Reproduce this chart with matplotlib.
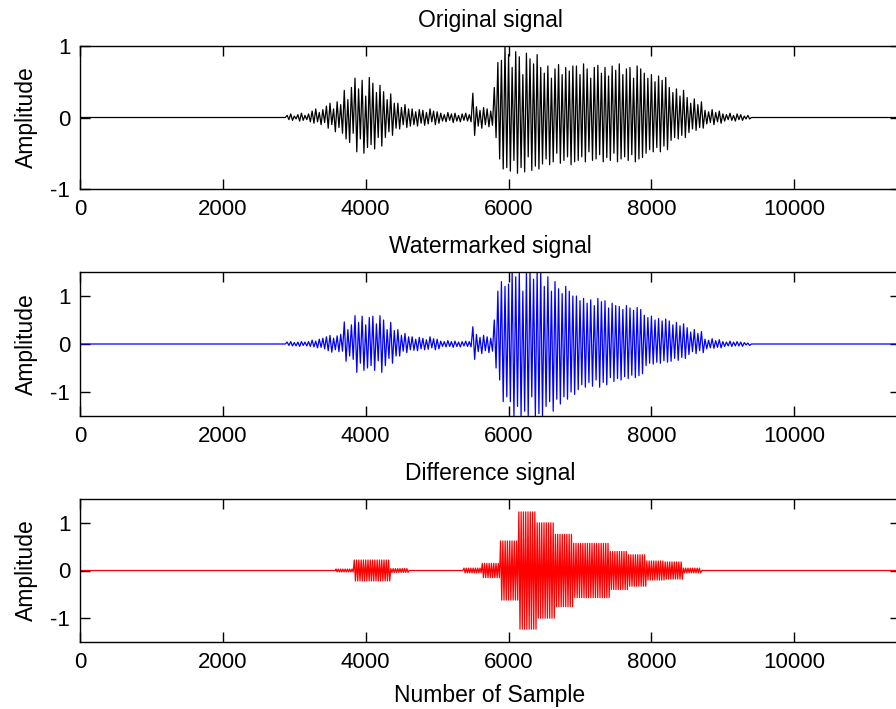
import numpy as np
import matplotlib
matplotlib.use('Agg')
import matplotlib.pyplot as plt

plt.rcParams['font.family'] = ['Liberation Sans', 'DejaVu Sans']
plt.rcParams['font.size'] = 16
plt.rcParams['axes.unicode_minus'] = False

# sample axis
n_samples = 11480
x_ticks = [0, 2000, 4000, 6000, 8000, 10000]

# active part of the speech signals: one positive and one negative peak
# every 50 samples starting at sample 2900 (values in 1/100)
peak_start = 2900
peak_step = 50

orig_top = [3, 5, 2, 4, 6, 3, 5,
            9, 12, 7, 11,
            16, 20, 12, 22, 18,
            38, 25, 42,
            55, 40, 52, 30, 56,
            48, 35, 45,
            36, 25, 33, 20,
            20, 14, 18, 12,
            12, 8, 11, 10, 7, 12, 9, 8,
            6, 4, 7, 5, 6, 3, 5, 6, 4,
            34,
            15, 10, 14, 12, 9,
            42,
            77,
            80, 100,
            88, 70, 92, 85, 60, 90, 82, 75, 88,
            70, 62, 72, 55, 68, 74, 60, 70, 65, 72,
            72, 60, 75, 68, 55, 70, 73, 62, 70, 58, 72, 66, 75, 60, 68, 70, 55, 72, 68,
            62, 55, 60, 50, 58, 52, 56,
            42, 35, 40, 30, 38,
            28, 20, 26, 18, 22,
            10, 8, 11, 7, 9,
            5, 4, 6, 3, 5, 4,
            2, 3]
orig_bot = [-3, -4, -2, -5, -4, -3, -6,
            -8, -6, -10, -7,
            -15, -10, -20, -14, -22,
            -30, -35, -22,
            -48, -30, -50, -42, -38,
            -44, -28, -40,
            -28, -20, -25, -15,
            -16, -10, -14, -12,
            -10, -12, -8, -11, -9, -6, -10, -8,
            -5, -6, -4, -7, -5, -6, -4, -5, -6,
            -25,
            -12, -15, -10, -13, -11,
            -28,
            -58,
            -72, -70,
            -75, -60, -78, -70, -76, -55, -74, -68, -72,
            -65, -58, -66, -62, -50, -64, -60, -55, -66, -62,
            -60, -55, -62, -48, -60, -58, -52, -62, -56, -60, -50, -62, -58, -55, -60, -52, -62, -58, -56,
            -50, -45, -48, -42, -48, -40, -45,
            -32, -28, -30, -25, -28,
            -21, -16, -18, -14, -15,
            -9, -7, -10, -6, -8,
            -5, -3, -4, -5, -3, -4,
            -2, -2]

wm_top = [4, 5, 3, 4, 5, 4, 5,
          8, 6, 10, 12,
          15, 18, 12, 17, 20,
          46, 30, 40,
          59, 45, 58, 40, 55,
          58, 42, 59,
          50, 30, 45, 28,
          30, 18, 22, 15,
          15, 10, 14, 12, 9, 15, 11, 10,
          6, 5, 7, 5, 6, 4, 5, 6, 5,
          36,
          20, 14, 18, 15, 12,
          50,
          110,
          130, 120,
          125, 150, 140, 150, 110, 150, 150, 135, 150,
          150, 120, 140, 110, 130, 115, 105, 120, 110, 100,
          100, 90, 95, 85, 92, 80, 95, 88, 90, 75, 85, 80, 78, 72, 80, 75, 70, 76, 72,
          60, 55, 58, 50, 53, 48, 52,
          48, 40, 45, 38, 42,
          34, 25, 30, 22, 26,
          10, 8, 11, 7, 9,
          5, 4, 6, 4, 5, 4,
          3, 2]
wm_bot = [-3, -4, -4, -5, -3, -4, -5,
          -6, -8, -7, -10,
          -14, -17, -12, -16, -15,
          -36, -25, -32,
          -59, -40, -55, -50, -45,
          -55, -35, -59,
          -45, -30, -40, -25,
          -25, -15, -18, -12,
          -13, -14, -10, -12, -11, -8, -12, -10,
          -5, -6, -5, -7, -5, -6, -4, -5, -6,
          -32,
          -16, -20, -14, -18, -15,
          -50,
          -75,
          -120, -110,
          -120, -150, -130, -150, -140, -150, -110, -150, -145,
          -150, -130, -120, -140, -115, -125, -110, -115, -100, -105,
          -95, -85, -90, -80, -88, -75, -90, -80, -85, -70, -78, -72, -75, -68, -72, -65, -70, -66, -62,
          -45, -40, -42, -38, -40, -35, -38,
          -36, -30, -34, -28, -30,
          -22, -16, -20, -14, -18,
          -10, -8, -9, -7, -8,
          -5, -4, -5, -4, -4, -5,
          -2, -3]

# difference signal: 256-sample frames and their peak amplitude (1/100)
frame_edges = [3584, 3840, 4352, 4608, 5376, 5632, 5888, 6144, 6400,
               6656, 6912, 7424, 7680, 7936, 8192, 8448, 8704]
frame_amp = [3, 22, 4, 0, 5, 15, 62, 123, 100, 76, 57, 40, 33, 20, 18, 5]
diff_step = 16


def peak_wave(top, bot):
    top = np.array(top) / 100.0
    bot = np.array(bot) / 100.0
    xt = peak_start + peak_step * np.arange(len(top))
    xb = xt + peak_step // 2
    x = np.empty(2 * len(top))
    y = np.empty(2 * len(top))
    x[0::2], x[1::2] = xt, xb
    y[0::2], y[1::2] = top, bot
    end = x[-1] + peak_step // 2
    x = np.concatenate([[0, peak_start - peak_step // 2], x, [end, n_samples]])
    y = np.concatenate([[0, 0], y, [0, 0]])
    return x, y


def frame_wave():
    xs, ys = [0.0, frame_edges[0]], [0.0, 0.0]
    for a, b, amp in zip(frame_edges[:-1], frame_edges[1:], frame_amp):
        px = np.arange(a, b, diff_step)
        sign = np.where(np.arange(len(px)) % 2 == 0, 1.0, -1.0)
        xs.extend(px)
        ys.extend(sign * amp / 100.0)
    xs.extend([frame_edges[-1], n_samples])
    ys.extend([0.0, 0.0])
    return np.array(xs), np.array(ys)


fig = plt.figure(figsize=(8.96, 7.09), dpi=100)

left = 80 / 896
width = 820 / 896
rects = [[left, 520 / 709, width, 143 / 709],
         [left, 293 / 709, width, 144 / 709],
         [left, 67 / 709, width, 143 / 709]]

titles = ['Original signal', 'Watermarked signal', 'Difference signal']
colors = ['black', 'blue', 'red']
ylims = [(-1, 1), (-1.5, 1.5), (-1.5, 1.5)]

waves = [peak_wave(orig_top, orig_bot), peak_wave(wm_top, wm_bot), frame_wave()]

for rect, title, color, ylim, (x, y) in zip(rects, titles, colors, ylims, waves):
    ax = fig.add_axes(rect)
    ax.plot(x, y, color=color, lw=0.9)
    ax.set_xlim(0, n_samples)
    ax.set_ylim(*ylim)
    ax.set_xticks(x_ticks)
    ax.set_yticks([-1, 0, 1])
    ax.tick_params(direction='in', length=7, width=1, top=True, right=True,
                   labelsize=16, pad=7)
    ax.set_title(title, fontsize=16.5, pad=14)
    ax.set_ylabel('Amplitude', fontsize=16.5, labelpad=9)
    for s in ax.spines.values():
        s.set_linewidth(1.0)

ax.set_xlabel('Number of Sample', fontsize=16.5, labelpad=8)

fig.savefig('out.png', dpi=100)
